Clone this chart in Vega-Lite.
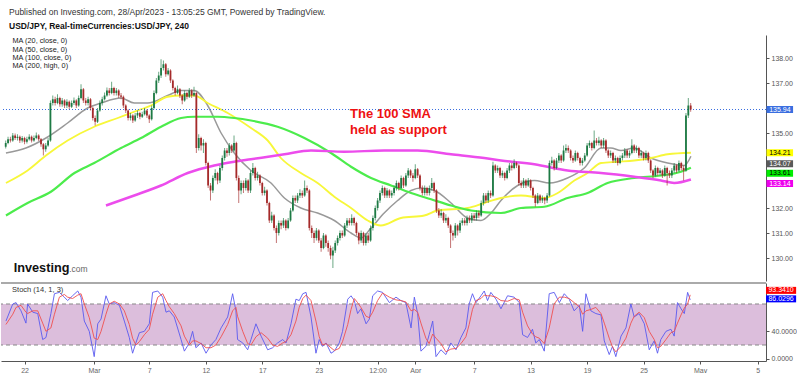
{
"$schema":"https://vega.github.io/schema/vega-lite/v6.json",
"padding":{"left":0,"top":8,"right":0,"bottom":0},
"background":"white",
"config":{"font":"Liberation Sans","view":{"stroke":null},"axis":{"grid":false}},
"title":{"text":"Published on Investing.com, 28/Apr/2023 - 13:05:25 GMT, Powered by TradingView.","subtitle":"USD/JPY, Real-timeCurrencies:USD/JPY, 240","anchor":"start","dx":9,"fontSize":8.5,"fontWeight":"normal","color":"#333","subtitleFontSize":8.5,"subtitleFontWeight":"bold","subtitleColor":"#111","subtitlePadding":5,"offset":5},
"datasets":{
"c":[
{"i":2,"o":134.45,"h":134.7,"l":134.38,"c":134.6},
{"i":3,"o":134.6,"h":134.85,"l":134.55,"c":134.75},
{"i":4,"o":134.75,"h":134.85,"l":134.62,"c":134.7},
{"i":5,"o":134.7,"h":135.0,"l":134.65,"c":134.9},
{"i":6,"o":134.9,"h":134.98,"l":134.72,"c":134.8},
{"i":7,"o":134.8,"h":134.95,"l":134.7,"c":134.85},
{"i":8,"o":134.85,"h":134.9,"l":134.6,"c":134.7},
{"i":9,"o":134.7,"h":134.88,"l":134.62,"c":134.8},
{"i":10,"o":134.8,"h":134.85,"l":134.55,"c":134.65},
{"i":11,"o":134.65,"h":134.85,"l":134.58,"c":134.75},
{"i":12,"o":134.75,"h":134.95,"l":134.7,"c":134.85},
{"i":13,"o":134.85,"h":134.9,"l":134.62,"c":134.7},
{"i":14,"o":134.7,"h":134.9,"l":134.65,"c":134.8},
{"i":15,"o":134.8,"h":135.02,"l":134.75,"c":134.9},
{"i":16,"o":134.9,"h":134.95,"l":134.68,"c":134.75},
{"i":17,"o":134.75,"h":134.8,"l":134.45,"c":134.55},
{"i":18,"o":134.55,"h":134.6,"l":134.1,"c":134.35},
{"i":19,"o":134.35,"h":134.6,"l":134.25,"c":134.5},
{"i":20,"o":134.5,"h":134.8,"l":134.45,"c":134.7},
{"i":21,"o":134.7,"h":136.3,"l":134.65,"c":136.2},
{"i":22,"o":136.2,"h":136.5,"l":136.1,"c":136.35},
{"i":23,"o":136.35,"h":136.45,"l":136.1,"c":136.2},
{"i":24,"o":136.2,"h":136.55,"l":136.15,"c":136.4},
{"i":25,"o":136.4,"h":136.45,"l":136.05,"c":136.15},
{"i":26,"o":136.15,"h":136.4,"l":136.05,"c":136.3},
{"i":27,"o":136.3,"h":136.35,"l":136.0,"c":136.1},
{"i":28,"o":136.1,"h":136.35,"l":136.0,"c":136.25},
{"i":29,"o":136.25,"h":136.3,"l":135.95,"c":136.05},
{"i":30,"o":136.05,"h":136.3,"l":136.0,"c":136.2},
{"i":31,"o":136.2,"h":136.42,"l":136.12,"c":136.3},
{"i":32,"o":136.3,"h":136.35,"l":136.0,"c":136.1},
{"i":33,"o":136.1,"h":136.5,"l":136.05,"c":136.4},
{"i":34,"o":136.4,"h":136.95,"l":136.35,"c":136.75},
{"i":35,"o":136.75,"h":136.8,"l":136.2,"c":136.3},
{"i":36,"o":136.3,"h":136.4,"l":136.1,"c":136.2},
{"i":37,"o":136.2,"h":136.45,"l":136.1,"c":136.35},
{"i":38,"o":136.35,"h":136.4,"l":135.9,"c":136.0},
{"i":39,"o":136.0,"h":136.05,"l":135.5,"c":135.6},
{"i":40,"o":135.6,"h":135.7,"l":135.3,"c":135.45},
{"i":41,"o":135.45,"h":136.0,"l":135.4,"c":135.9},
{"i":42,"o":135.9,"h":136.3,"l":135.85,"c":136.2},
{"i":43,"o":136.2,"h":136.45,"l":136.1,"c":136.35},
{"i":44,"o":136.35,"h":136.62,"l":136.3,"c":136.5},
{"i":45,"o":136.5,"h":136.82,"l":136.45,"c":136.7},
{"i":46,"o":136.7,"h":136.8,"l":136.5,"c":136.6},
{"i":47,"o":136.6,"h":137.05,"l":136.55,"c":136.8},
{"i":48,"o":136.8,"h":136.85,"l":136.5,"c":136.6},
{"i":49,"o":136.6,"h":136.8,"l":136.5,"c":136.7},
{"i":50,"o":136.7,"h":136.75,"l":136.4,"c":136.5},
{"i":51,"o":136.5,"h":136.6,"l":136.35,"c":136.45},
{"i":52,"o":136.45,"h":136.5,"l":136.0,"c":136.1},
{"i":53,"o":136.1,"h":136.15,"l":135.8,"c":135.9},
{"i":54,"o":135.9,"h":135.95,"l":135.5,"c":135.6},
{"i":55,"o":135.6,"h":135.8,"l":135.5,"c":135.7},
{"i":56,"o":135.7,"h":135.75,"l":135.4,"c":135.5},
{"i":57,"o":135.5,"h":135.8,"l":135.45,"c":135.7},
{"i":58,"o":135.7,"h":135.9,"l":135.6,"c":135.8},
{"i":59,"o":135.8,"h":135.85,"l":135.55,"c":135.65},
{"i":60,"o":135.65,"h":135.85,"l":135.6,"c":135.75},
{"i":61,"o":135.75,"h":136.0,"l":135.7,"c":135.9},
{"i":62,"o":135.9,"h":135.95,"l":135.6,"c":135.7},
{"i":63,"o":135.7,"h":135.75,"l":135.4,"c":135.55},
{"i":64,"o":135.55,"h":136.1,"l":135.5,"c":136.0},
{"i":65,"o":136.0,"h":136.7,"l":135.95,"c":136.6},
{"i":66,"o":136.6,"h":137.2,"l":136.55,"c":137.1},
{"i":67,"o":137.1,"h":137.45,"l":137.0,"c":137.3},
{"i":68,"o":137.3,"h":137.95,"l":137.2,"c":137.6},
{"i":69,"o":137.6,"h":137.9,"l":137.5,"c":137.75},
{"i":70,"o":137.75,"h":137.8,"l":137.25,"c":137.35},
{"i":71,"o":137.35,"h":137.6,"l":137.3,"c":137.5},
{"i":72,"o":137.5,"h":137.55,"l":137.0,"c":137.1},
{"i":73,"o":137.1,"h":137.15,"l":136.7,"c":136.8},
{"i":74,"o":136.8,"h":136.85,"l":136.5,"c":136.6},
{"i":75,"o":136.6,"h":136.9,"l":136.55,"c":136.75},
{"i":76,"o":136.75,"h":136.8,"l":136.4,"c":136.5},
{"i":77,"o":136.5,"h":136.55,"l":136.15,"c":136.3},
{"i":78,"o":136.3,"h":136.7,"l":136.25,"c":136.6},
{"i":79,"o":136.6,"h":136.65,"l":136.35,"c":136.45},
{"i":80,"o":136.45,"h":136.8,"l":136.4,"c":136.7},
{"i":81,"o":136.7,"h":136.75,"l":136.4,"c":136.5},
{"i":82,"o":136.5,"h":136.85,"l":136.45,"c":136.6},
{"i":83,"o":136.6,"h":136.65,"l":134.2,"c":134.4},
{"i":84,"o":134.4,"h":134.95,"l":134.3,"c":134.8},
{"i":85,"o":134.8,"h":134.85,"l":134.3,"c":134.5},
{"i":86,"o":134.5,"h":134.75,"l":134.2,"c":134.6},
{"i":87,"o":134.6,"h":134.65,"l":133.7,"c":133.8},
{"i":88,"o":133.8,"h":133.85,"l":132.8,"c":132.9},
{"i":89,"o":132.9,"h":133.0,"l":132.3,"c":132.7},
{"i":90,"o":132.7,"h":133.3,"l":132.6,"c":133.2},
{"i":91,"o":133.2,"h":133.55,"l":133.1,"c":133.4},
{"i":92,"o":133.4,"h":133.45,"l":132.95,"c":133.1},
{"i":93,"o":133.1,"h":133.7,"l":133.0,"c":133.6},
{"i":94,"o":133.6,"h":134.1,"l":133.5,"c":134.0},
{"i":95,"o":134.0,"h":134.4,"l":133.9,"c":134.3},
{"i":96,"o":134.3,"h":134.4,"l":134.05,"c":134.2},
{"i":97,"o":134.2,"h":134.6,"l":134.1,"c":134.5},
{"i":98,"o":134.5,"h":134.55,"l":134.2,"c":134.3},
{"i":99,"o":134.3,"h":134.9,"l":134.25,"c":134.6},
{"i":100,"o":134.6,"h":134.65,"l":133.1,"c":133.2},
{"i":101,"o":133.2,"h":133.3,"l":132.2,"c":132.7},
{"i":102,"o":132.7,"h":133.1,"l":132.55,"c":133.0},
{"i":103,"o":133.0,"h":133.1,"l":132.6,"c":132.8},
{"i":104,"o":132.8,"h":133.2,"l":132.7,"c":133.1},
{"i":105,"o":133.1,"h":133.15,"l":132.6,"c":132.7},
{"i":106,"o":132.7,"h":133.5,"l":132.6,"c":133.4},
{"i":107,"o":133.4,"h":133.8,"l":133.3,"c":133.6},
{"i":108,"o":133.6,"h":133.65,"l":133.1,"c":133.2},
{"i":109,"o":133.2,"h":133.45,"l":133.1,"c":133.3},
{"i":110,"o":133.3,"h":133.35,"l":132.9,"c":133.0},
{"i":111,"o":133.0,"h":133.05,"l":132.5,"c":132.6},
{"i":112,"o":132.6,"h":132.85,"l":132.5,"c":132.7},
{"i":113,"o":132.7,"h":132.75,"l":132.1,"c":132.2},
{"i":114,"o":132.2,"h":132.25,"l":131.4,"c":131.5},
{"i":115,"o":131.5,"h":131.85,"l":131.4,"c":131.7},
{"i":116,"o":131.7,"h":131.75,"l":131.1,"c":131.2},
{"i":117,"o":131.2,"h":131.3,"l":130.6,"c":131.0},
{"i":118,"o":131.0,"h":131.5,"l":130.9,"c":131.4},
{"i":119,"o":131.4,"h":131.5,"l":131.15,"c":131.3},
{"i":120,"o":131.3,"h":131.6,"l":131.2,"c":131.5},
{"i":121,"o":131.5,"h":131.55,"l":131.1,"c":131.2},
{"i":122,"o":131.2,"h":131.6,"l":131.15,"c":131.5},
{"i":123,"o":131.5,"h":132.0,"l":131.45,"c":131.9},
{"i":124,"o":131.9,"h":132.5,"l":131.85,"c":132.4},
{"i":125,"o":132.4,"h":132.5,"l":132.2,"c":132.3},
{"i":126,"o":132.3,"h":132.6,"l":132.2,"c":132.5},
{"i":127,"o":132.5,"h":132.75,"l":132.4,"c":132.6},
{"i":128,"o":132.6,"h":132.7,"l":132.4,"c":132.5},
{"i":129,"o":132.5,"h":133.1,"l":132.45,"c":132.8},
{"i":130,"o":132.8,"h":132.9,"l":132.6,"c":132.7},
{"i":131,"o":132.7,"h":132.75,"l":131.1,"c":131.2},
{"i":132,"o":131.2,"h":131.3,"l":130.8,"c":131.0},
{"i":133,"o":131.0,"h":131.1,"l":130.6,"c":130.8},
{"i":134,"o":130.8,"h":131.2,"l":130.7,"c":131.1},
{"i":135,"o":131.1,"h":131.15,"l":130.6,"c":130.7},
{"i":136,"o":130.7,"h":130.8,"l":130.25,"c":130.4},
{"i":137,"o":130.4,"h":131.0,"l":130.35,"c":130.9},
{"i":138,"o":130.9,"h":130.95,"l":130.45,"c":130.6},
{"i":139,"o":130.6,"h":130.7,"l":130.25,"c":130.4},
{"i":140,"o":130.4,"h":130.5,"l":129.95,"c":130.1},
{"i":141,"o":130.1,"h":130.45,"l":129.6,"c":130.3},
{"i":142,"o":130.3,"h":130.7,"l":130.2,"c":130.6},
{"i":143,"o":130.6,"h":130.9,"l":130.5,"c":130.8},
{"i":144,"o":130.8,"h":131.1,"l":130.7,"c":131.0},
{"i":145,"o":131.0,"h":131.1,"l":130.8,"c":130.9},
{"i":146,"o":130.9,"h":131.4,"l":130.85,"c":131.3},
{"i":147,"o":131.3,"h":131.6,"l":131.2,"c":131.5},
{"i":148,"o":131.5,"h":131.6,"l":131.3,"c":131.4},
{"i":149,"o":131.4,"h":131.75,"l":131.3,"c":131.6},
{"i":150,"o":131.6,"h":131.65,"l":131.3,"c":131.4},
{"i":151,"o":131.4,"h":131.45,"l":130.9,"c":131.0},
{"i":152,"o":131.0,"h":131.05,"l":130.55,"c":130.7},
{"i":153,"o":130.7,"h":131.1,"l":130.6,"c":131.0},
{"i":154,"o":131.0,"h":131.05,"l":130.5,"c":130.6},
{"i":155,"o":130.6,"h":131.0,"l":130.5,"c":130.9},
{"i":156,"o":130.9,"h":131.0,"l":130.6,"c":130.7},
{"i":157,"o":130.7,"h":131.3,"l":130.65,"c":131.2},
{"i":158,"o":131.2,"h":131.7,"l":131.1,"c":131.6},
{"i":159,"o":131.6,"h":132.1,"l":131.5,"c":132.0},
{"i":160,"o":132.0,"h":132.4,"l":131.9,"c":132.3},
{"i":161,"o":132.3,"h":132.7,"l":132.2,"c":132.6},
{"i":162,"o":132.6,"h":132.9,"l":132.5,"c":132.8},
{"i":163,"o":132.8,"h":132.85,"l":132.4,"c":132.5},
{"i":164,"o":132.5,"h":132.8,"l":132.4,"c":132.7},
{"i":165,"o":132.7,"h":132.75,"l":132.4,"c":132.5},
{"i":166,"o":132.5,"h":132.7,"l":132.4,"c":132.6},
{"i":167,"o":132.6,"h":132.9,"l":132.5,"c":132.8},
{"i":168,"o":132.8,"h":133.1,"l":132.7,"c":133.0},
{"i":169,"o":133.0,"h":133.05,"l":132.7,"c":132.8},
{"i":170,"o":132.8,"h":133.3,"l":132.75,"c":133.2},
{"i":171,"o":133.2,"h":133.25,"l":132.8,"c":132.9},
{"i":172,"o":132.9,"h":133.4,"l":132.85,"c":133.3},
{"i":173,"o":133.3,"h":133.6,"l":133.2,"c":133.5},
{"i":174,"o":133.5,"h":133.55,"l":133.2,"c":133.3},
{"i":175,"o":133.3,"h":133.4,"l":133.05,"c":133.2},
{"i":176,"o":133.2,"h":133.75,"l":133.15,"c":133.55},
{"i":177,"o":133.55,"h":133.6,"l":133.2,"c":133.3},
{"i":178,"o":133.3,"h":133.35,"l":132.7,"c":132.8},
{"i":179,"o":132.8,"h":132.9,"l":132.5,"c":132.6},
{"i":180,"o":132.6,"h":132.9,"l":132.5,"c":132.8},
{"i":181,"o":132.8,"h":132.85,"l":132.5,"c":132.6},
{"i":182,"o":132.6,"h":132.9,"l":132.5,"c":132.8},
{"i":183,"o":132.8,"h":133.2,"l":132.7,"c":133.0},
{"i":184,"o":133.0,"h":133.05,"l":132.6,"c":132.7},
{"i":185,"o":132.7,"h":132.75,"l":131.8,"c":131.9},
{"i":186,"o":131.9,"h":132.0,"l":131.6,"c":131.7},
{"i":187,"o":131.7,"h":131.95,"l":131.6,"c":131.8},
{"i":188,"o":131.8,"h":131.85,"l":131.4,"c":131.5},
{"i":189,"o":131.5,"h":131.75,"l":131.4,"c":131.6},
{"i":190,"o":131.6,"h":131.65,"l":131.2,"c":131.3},
{"i":191,"o":131.3,"h":131.35,"l":130.4,"c":131.0},
{"i":192,"o":131.0,"h":131.1,"l":130.7,"c":130.9},
{"i":193,"o":130.9,"h":131.4,"l":130.8,"c":131.3},
{"i":194,"o":131.3,"h":131.35,"l":130.9,"c":131.1},
{"i":195,"o":131.1,"h":131.5,"l":131.0,"c":131.4},
{"i":196,"o":131.4,"h":131.6,"l":131.3,"c":131.5},
{"i":197,"o":131.5,"h":131.6,"l":131.3,"c":131.4},
{"i":198,"o":131.4,"h":131.7,"l":131.3,"c":131.6},
{"i":199,"o":131.6,"h":131.7,"l":131.4,"c":131.5},
{"i":200,"o":131.5,"h":131.8,"l":131.4,"c":131.7},
{"i":201,"o":131.7,"h":131.8,"l":131.5,"c":131.6},
{"i":202,"o":131.6,"h":131.9,"l":131.5,"c":131.8},
{"i":203,"o":131.8,"h":131.9,"l":131.6,"c":131.7},
{"i":204,"o":131.7,"h":132.3,"l":131.65,"c":132.2},
{"i":205,"o":132.2,"h":132.6,"l":132.1,"c":132.5},
{"i":206,"o":132.5,"h":132.6,"l":132.2,"c":132.3},
{"i":207,"o":132.3,"h":132.7,"l":132.2,"c":132.6},
{"i":208,"o":132.6,"h":132.7,"l":132.4,"c":132.5},
{"i":209,"o":132.5,"h":133.85,"l":132.45,"c":133.7},
{"i":210,"o":133.7,"h":133.75,"l":133.4,"c":133.5},
{"i":211,"o":133.5,"h":133.7,"l":133.4,"c":133.6},
{"i":212,"o":133.6,"h":133.65,"l":133.2,"c":133.3},
{"i":213,"o":133.3,"h":133.5,"l":133.2,"c":133.4},
{"i":214,"o":133.4,"h":133.45,"l":133.1,"c":133.2},
{"i":215,"o":133.2,"h":133.6,"l":133.15,"c":133.5},
{"i":216,"o":133.5,"h":133.8,"l":133.4,"c":133.7},
{"i":217,"o":133.7,"h":133.8,"l":133.5,"c":133.6},
{"i":218,"o":133.6,"h":133.95,"l":133.55,"c":133.8},
{"i":219,"o":133.8,"h":133.85,"l":133.6,"c":133.7},
{"i":220,"o":133.7,"h":133.75,"l":132.9,"c":133.0},
{"i":221,"o":133.0,"h":133.1,"l":132.8,"c":132.9},
{"i":222,"o":132.9,"h":133.2,"l":132.8,"c":133.1},
{"i":223,"o":133.1,"h":133.15,"l":132.8,"c":132.9},
{"i":224,"o":132.9,"h":133.2,"l":132.85,"c":133.1},
{"i":225,"o":133.1,"h":133.15,"l":132.7,"c":132.8},
{"i":226,"o":132.8,"h":132.85,"l":132.4,"c":132.5},
{"i":227,"o":132.5,"h":132.55,"l":132.05,"c":132.2},
{"i":228,"o":132.2,"h":132.6,"l":132.15,"c":132.5},
{"i":229,"o":132.5,"h":132.55,"l":132.2,"c":132.3},
{"i":230,"o":132.3,"h":132.5,"l":132.2,"c":132.4},
{"i":231,"o":132.4,"h":132.45,"l":132.15,"c":132.3},
{"i":232,"o":132.3,"h":132.6,"l":132.2,"c":132.5},
{"i":233,"o":132.5,"h":133.9,"l":132.45,"c":133.8},
{"i":234,"o":133.8,"h":134.05,"l":133.7,"c":133.9},
{"i":235,"o":133.9,"h":133.95,"l":133.5,"c":133.6},
{"i":236,"o":133.6,"h":134.0,"l":133.55,"c":133.9},
{"i":237,"o":133.9,"h":134.2,"l":133.8,"c":134.1},
{"i":238,"o":134.1,"h":134.15,"l":133.8,"c":133.9},
{"i":239,"o":133.9,"h":134.5,"l":133.85,"c":134.3},
{"i":240,"o":134.3,"h":134.55,"l":134.2,"c":134.4},
{"i":241,"o":134.4,"h":134.5,"l":134.2,"c":134.3},
{"i":242,"o":134.3,"h":134.35,"l":133.9,"c":134.0},
{"i":243,"o":134.0,"h":134.1,"l":133.8,"c":133.9},
{"i":244,"o":133.9,"h":134.3,"l":133.85,"c":134.2},
{"i":245,"o":134.2,"h":134.25,"l":133.9,"c":134.0},
{"i":246,"o":134.0,"h":134.05,"l":133.7,"c":133.8},
{"i":247,"o":133.8,"h":134.0,"l":133.7,"c":133.9},
{"i":248,"o":133.9,"h":134.2,"l":133.85,"c":134.1},
{"i":249,"o":134.1,"h":134.6,"l":134.05,"c":134.5},
{"i":250,"o":134.5,"h":134.7,"l":134.4,"c":134.6},
{"i":251,"o":134.6,"h":134.65,"l":134.3,"c":134.4},
{"i":252,"o":134.4,"h":135.1,"l":134.35,"c":134.7},
{"i":253,"o":134.7,"h":134.8,"l":134.5,"c":134.6},
{"i":254,"o":134.6,"h":134.85,"l":134.5,"c":134.7},
{"i":255,"o":134.7,"h":134.75,"l":134.4,"c":134.5},
{"i":256,"o":134.5,"h":134.8,"l":134.4,"c":134.7},
{"i":257,"o":134.7,"h":134.75,"l":134.2,"c":134.3},
{"i":258,"o":134.3,"h":134.35,"l":134.0,"c":134.1},
{"i":259,"o":134.1,"h":134.3,"l":134.0,"c":134.2},
{"i":260,"o":134.2,"h":134.25,"l":133.8,"c":133.9},
{"i":261,"o":133.9,"h":134.1,"l":133.8,"c":134.0},
{"i":262,"o":134.0,"h":134.05,"l":133.7,"c":133.8},
{"i":263,"o":133.8,"h":134.1,"l":133.75,"c":134.0},
{"i":264,"o":134.0,"h":134.2,"l":133.9,"c":134.1},
{"i":265,"o":134.1,"h":134.4,"l":134.0,"c":134.3},
{"i":266,"o":134.3,"h":134.35,"l":134.0,"c":134.1},
{"i":267,"o":134.1,"h":134.3,"l":134.0,"c":134.2},
{"i":268,"o":134.2,"h":134.75,"l":134.15,"c":134.5},
{"i":269,"o":134.5,"h":134.55,"l":134.2,"c":134.3},
{"i":270,"o":134.3,"h":134.5,"l":134.2,"c":134.4},
{"i":271,"o":134.4,"h":134.45,"l":134.0,"c":134.1},
{"i":272,"o":134.1,"h":134.3,"l":134.0,"c":134.2},
{"i":273,"o":134.2,"h":134.25,"l":133.9,"c":134.0},
{"i":274,"o":134.0,"h":134.3,"l":133.9,"c":134.2},
{"i":275,"o":134.2,"h":134.25,"l":133.8,"c":133.9},
{"i":276,"o":133.9,"h":133.95,"l":133.4,"c":133.5},
{"i":277,"o":133.5,"h":133.55,"l":133.2,"c":133.3},
{"i":278,"o":133.3,"h":133.7,"l":133.25,"c":133.6},
{"i":279,"o":133.6,"h":133.65,"l":133.3,"c":133.4},
{"i":280,"o":133.4,"h":133.6,"l":133.3,"c":133.5},
{"i":281,"o":133.5,"h":133.55,"l":133.2,"c":133.3},
{"i":282,"o":133.3,"h":133.7,"l":133.25,"c":133.6},
{"i":283,"o":133.6,"h":133.65,"l":132.9,"c":133.4},
{"i":284,"o":133.4,"h":133.5,"l":133.2,"c":133.3},
{"i":285,"o":133.3,"h":133.6,"l":133.2,"c":133.5},
{"i":286,"o":133.5,"h":133.8,"l":133.4,"c":133.7},
{"i":287,"o":133.7,"h":133.75,"l":133.4,"c":133.5},
{"i":288,"o":133.5,"h":133.9,"l":133.45,"c":133.8},
{"i":289,"o":133.8,"h":133.85,"l":133.5,"c":133.6},
{"i":290,"o":133.6,"h":133.7,"l":133.1,"c":133.5},
{"i":291,"o":133.5,"h":135.8,"l":133.45,"c":135.7},
{"i":292,"o":135.7,"h":136.4,"l":135.6,"c":136.1},
{"i":293,"o":136.1,"h":136.2,"l":135.85,"c":135.94}
],
"ma":[
{"s":"MA (20, close, 0)","i":2.1,"v":134.2},{"s":"MA (20, close, 0)","i":10.6,"v":134.4},{"s":"MA (20, close, 0)","i":19.1,"v":134.8},{"s":"MA (20, close, 0)","i":28.3,"v":135.4},{"s":"MA (20, close, 0)","i":36.8,"v":136.0},{"s":"MA (20, close, 0)","i":42.5,"v":136.2},{"s":"MA (20, close, 0)","i":51,"v":136.4},{"s":"MA (20, close, 0)","i":56.6,"v":136.2},{"s":"MA (20, close, 0)","i":62.3,"v":136.2},{"s":"MA (20, close, 0)","i":70.8,"v":136.5},{"s":"MA (20, close, 0)","i":76.5,"v":136.7},{"s":"MA (20, close, 0)","i":82.1,"v":136.7},{"s":"MA (20, close, 0)","i":87.8,"v":136.1},{"s":"MA (20, close, 0)","i":93.5,"v":135.0},{"s":"MA (20, close, 0)","i":99.1,"v":134.2},{"s":"MA (20, close, 0)","i":106.2,"v":133.5},{"s":"MA (20, close, 0)","i":114.7,"v":133.0},{"s":"MA (20, close, 0)","i":120.4,"v":132.4},{"s":"MA (20, close, 0)","i":127.4,"v":132.0},{"s":"MA (20, close, 0)","i":134.5,"v":131.8},{"s":"MA (20, close, 0)","i":141.6,"v":131.5},{"s":"MA (20, close, 0)","i":148.7,"v":131.0},{"s":"MA (20, close, 0)","i":152.9,"v":130.8},{"s":"MA (20, close, 0)","i":157.2,"v":131.2},{"s":"MA (20, close, 0)","i":162.8,"v":131.8},{"s":"MA (20, close, 0)","i":168.5,"v":132.3},{"s":"MA (20, close, 0)","i":174.2,"v":132.7},{"s":"MA (20, close, 0)","i":178.4,"v":132.8},{"s":"MA (20, close, 0)","i":184.1,"v":132.7},{"s":"MA (20, close, 0)","i":191.2,"v":132.2},{"s":"MA (20, close, 0)","i":198.2,"v":131.6},{"s":"MA (20, close, 0)","i":203.9,"v":131.5},{"s":"MA (20, close, 0)","i":208.2,"v":131.8},{"s":"MA (20, close, 0)","i":212.4,"v":132.3},{"s":"MA (20, close, 0)","i":219.5,"v":132.9},{"s":"MA (20, close, 0)","i":226.6,"v":133.1},{"s":"MA (20, close, 0)","i":233,"v":133.0},{"s":"MA (20, close, 0)","i":240.7,"v":133.2},{"s":"MA (20, close, 0)","i":247.8,"v":133.6},{"s":"MA (20, close, 0)","i":254.9,"v":134.4},{"s":"MA (20, close, 0)","i":259.1,"v":134.4},{"s":"MA (20, close, 0)","i":263.4,"v":134.3},{"s":"MA (20, close, 0)","i":269,"v":134.4},{"s":"MA (20, close, 0)","i":276.1,"v":134.0},{"s":"MA (20, close, 0)","i":283.2,"v":133.8},{"s":"MA (20, close, 0)","i":290.3,"v":133.7},{"s":"MA (20, close, 0)","i":293.1,"v":134.07},
{"s":"MA (50, close, 0)","i":2.1,"v":133.0},{"s":"MA (50, close, 0)","i":11.3,"v":133.5},{"s":"MA (50, close, 0)","i":19.1,"v":134.1},{"s":"MA (50, close, 0)","i":28.3,"v":134.7},{"s":"MA (50, close, 0)","i":39.6,"v":135.25},{"s":"MA (50, close, 0)","i":49.6,"v":135.6},{"s":"MA (50, close, 0)","i":56.6,"v":135.85},{"s":"MA (50, close, 0)","i":63.7,"v":136.1},{"s":"MA (50, close, 0)","i":70.8,"v":136.45},{"s":"MA (50, close, 0)","i":76.5,"v":136.5},{"s":"MA (50, close, 0)","i":82.1,"v":136.5},{"s":"MA (50, close, 0)","i":87.8,"v":136.2},{"s":"MA (50, close, 0)","i":96.3,"v":135.8},{"s":"MA (50, close, 0)","i":106.2,"v":135.2},{"s":"MA (50, close, 0)","i":113.3,"v":134.7},{"s":"MA (50, close, 0)","i":118.9,"v":134.0},{"s":"MA (50, close, 0)","i":127.4,"v":133.4},{"s":"MA (50, close, 0)","i":134.5,"v":133.0},{"s":"MA (50, close, 0)","i":141.6,"v":132.45},{"s":"MA (50, close, 0)","i":148.7,"v":132.0},{"s":"MA (50, close, 0)","i":155.8,"v":131.5},{"s":"MA (50, close, 0)","i":161.4,"v":131.3},{"s":"MA (50, close, 0)","i":169.9,"v":131.6},{"s":"MA (50, close, 0)","i":179.8,"v":131.7},{"s":"MA (50, close, 0)","i":185.5,"v":131.9},{"s":"MA (50, close, 0)","i":198.2,"v":132.0},{"s":"MA (50, close, 0)","i":205.3,"v":132.2},{"s":"MA (50, close, 0)","i":212.4,"v":132.4},{"s":"MA (50, close, 0)","i":220.9,"v":132.5},{"s":"MA (50, close, 0)","i":230.8,"v":132.4},{"s":"MA (50, close, 0)","i":236.5,"v":132.6},{"s":"MA (50, close, 0)","i":243.6,"v":133.1},{"s":"MA (50, close, 0)","i":249.2,"v":133.4},{"s":"MA (50, close, 0)","i":254.9,"v":133.8},{"s":"MA (50, close, 0)","i":262,"v":133.85},{"s":"MA (50, close, 0)","i":269,"v":133.9},{"s":"MA (50, close, 0)","i":276.1,"v":134.0},{"s":"MA (50, close, 0)","i":283.2,"v":134.15},{"s":"MA (50, close, 0)","i":293.1,"v":134.21},
{"s":"MA (100, close, 0)","i":2.1,"v":131.7},{"s":"MA (100, close, 0)","i":11.3,"v":132.2},{"s":"MA (100, close, 0)","i":21.2,"v":132.65},{"s":"MA (100, close, 0)","i":31.2,"v":133.4},{"s":"MA (100, close, 0)","i":39.6,"v":133.8},{"s":"MA (100, close, 0)","i":51,"v":134.4},{"s":"MA (100, close, 0)","i":59.5,"v":134.8},{"s":"MA (100, close, 0)","i":68,"v":135.25},{"s":"MA (100, close, 0)","i":76.5,"v":135.6},{"s":"MA (100, close, 0)","i":82.1,"v":135.65},{"s":"MA (100, close, 0)","i":92,"v":135.65},{"s":"MA (100, close, 0)","i":99.1,"v":135.6},{"s":"MA (100, close, 0)","i":106.2,"v":135.5},{"s":"MA (100, close, 0)","i":117.5,"v":135.25},{"s":"MA (100, close, 0)","i":128.9,"v":134.8},{"s":"MA (100, close, 0)","i":140.2,"v":134.2},{"s":"MA (100, close, 0)","i":148.7,"v":133.65},{"s":"MA (100, close, 0)","i":157.2,"v":133.2},{"s":"MA (100, close, 0)","i":165.7,"v":132.9},{"s":"MA (100, close, 0)","i":174.2,"v":132.6},{"s":"MA (100, close, 0)","i":182.7,"v":132.35},{"s":"MA (100, close, 0)","i":191.2,"v":132.1},{"s":"MA (100, close, 0)","i":199.7,"v":131.9},{"s":"MA (100, close, 0)","i":212.4,"v":131.8},{"s":"MA (100, close, 0)","i":220.9,"v":132.0},{"s":"MA (100, close, 0)","i":230.8,"v":132.05},{"s":"MA (100, close, 0)","i":240.7,"v":132.4},{"s":"MA (100, close, 0)","i":249.2,"v":132.6},{"s":"MA (100, close, 0)","i":257.7,"v":133.0},{"s":"MA (100, close, 0)","i":269,"v":133.2},{"s":"MA (100, close, 0)","i":280.4,"v":133.3},{"s":"MA (100, close, 0)","i":288.9,"v":133.45},{"s":"MA (100, close, 0)","i":293.1,"v":133.61},
{"s":"MA (200, high, 0)","i":44.6,"v":132.1},{"s":"MA (200, high, 0)","i":56.6,"v":132.5},{"s":"MA (200, high, 0)","i":68,"v":132.9},{"s":"MA (200, high, 0)","i":79.3,"v":133.4},{"s":"MA (200, high, 0)","i":90.6,"v":133.7},{"s":"MA (200, high, 0)","i":99.1,"v":133.85},{"s":"MA (200, high, 0)","i":106.2,"v":133.95},{"s":"MA (200, high, 0)","i":120.4,"v":134.15},{"s":"MA (200, high, 0)","i":131.7,"v":134.3},{"s":"MA (200, high, 0)","i":145.8,"v":134.25},{"s":"MA (200, high, 0)","i":162.8,"v":134.3},{"s":"MA (200, high, 0)","i":177,"v":134.3},{"s":"MA (200, high, 0)","i":191.2,"v":134.15},{"s":"MA (200, high, 0)","i":205.3,"v":134.0},{"s":"MA (200, high, 0)","i":212.4,"v":133.9},{"s":"MA (200, high, 0)","i":226.6,"v":133.75},{"s":"MA (200, high, 0)","i":240.7,"v":133.5},{"s":"MA (200, high, 0)","i":254.9,"v":133.4},{"s":"MA (200, high, 0)","i":269,"v":133.25},{"s":"MA (200, high, 0)","i":280.4,"v":133.1},{"s":"MA (200, high, 0)","i":286,"v":133.0},{"s":"MA (200, high, 0)","i":293.1,"v":133.14}
],
"st":[
{"i":2.1,"k":55,"d":50},{"i":5,"k":80,"d":65},{"i":6.4,"k":82,"d":75},{"i":8.5,"k":70,"d":78},{"i":10.6,"k":52,"d":68},{"i":11.3,"k":80,"d":66},{"i":13.5,"k":68,"d":70},{"i":15.6,"k":66,"d":70},{"i":17.7,"k":28,"d":52},{"i":19.1,"k":31,"d":40},{"i":21.2,"k":66,"d":45},{"i":22.7,"k":95,"d":65},{"i":24.8,"k":97,"d":90},{"i":26.9,"k":90,"d":94},{"i":28.3,"k":85,"d":90},{"i":30.4,"k":92,"d":88},{"i":32.6,"k":99,"d":93},{"i":34,"k":90,"d":95},{"i":35.4,"k":55,"d":80},{"i":37.5,"k":40,"d":60},{"i":39.6,"k":3,"d":30},{"i":41.1,"k":51,"d":28},{"i":42.5,"k":58,"d":40},{"i":44.6,"k":92,"d":65},{"i":46,"k":80,"d":80},{"i":48.1,"k":82,"d":84},{"i":50.3,"k":78,"d":80},{"i":52.4,"k":55,"d":70},{"i":54.5,"k":31,"d":50},{"i":55.9,"k":8,"d":30},{"i":57.3,"k":23,"d":20},{"i":58.8,"k":38,"d":25},{"i":60.9,"k":40,"d":35},{"i":63,"k":51,"d":43},{"i":64.4,"k":97,"d":65},{"i":66.6,"k":99,"d":90},{"i":68.7,"k":90,"d":95},{"i":70.1,"k":68,"d":85},{"i":71.5,"k":70,"d":76},{"i":73.6,"k":61,"d":66},{"i":76.5,"k":28,"d":48},{"i":77.9,"k":11,"d":33},{"i":80,"k":23,"d":20},{"i":81.4,"k":40,"d":26},{"i":82.8,"k":16,"d":26},{"i":85,"k":23,"d":22},{"i":87.1,"k":8,"d":16},{"i":89.2,"k":20,"d":16},{"i":91.3,"k":28,"d":20},{"i":93.5,"k":45,"d":32},{"i":96.3,"k":61,"d":50},{"i":98.4,"k":95,"d":70},{"i":99.8,"k":70,"d":75},{"i":100.5,"k":28,"d":62},{"i":102.7,"k":23,"d":40},{"i":104.8,"k":13,"d":22},{"i":106.2,"k":28,"d":20},{"i":108.3,"k":51,"d":32},{"i":110.5,"k":33,"d":38},{"i":113.3,"k":13,"d":30},{"i":115.4,"k":16,"d":20},{"i":117.5,"k":23,"d":18},{"i":119.7,"k":28,"d":23},{"i":121.1,"k":23,"d":25},{"i":123.2,"k":51,"d":35},{"i":125.3,"k":87,"d":55},{"i":126.7,"k":85,"d":75},{"i":128.2,"k":95,"d":88},{"i":129.6,"k":97,"d":93},{"i":131.7,"k":61,"d":85},{"i":133.8,"k":8,"d":55},{"i":135.2,"k":28,"d":32},{"i":136.6,"k":18,"d":20},{"i":138.1,"k":23,"d":22},{"i":140.2,"k":8,"d":16},{"i":141.6,"k":11,"d":12},{"i":143.7,"k":23,"d":15},{"i":145.1,"k":40,"d":25},{"i":147.3,"k":87,"d":50},{"i":148.7,"k":92,"d":72},{"i":150.1,"k":85,"d":88},{"i":151.5,"k":66,"d":82},{"i":152.9,"k":73,"d":75},{"i":155.1,"k":51,"d":62},{"i":156.5,"k":58,"d":60},{"i":157.9,"k":92,"d":68},{"i":160,"k":99,"d":85},{"i":162.1,"k":97,"d":96},{"i":165,"k":82,"d":90},{"i":167.8,"k":90,"d":86},{"i":169.9,"k":85,"d":85},{"i":172,"k":82,"d":83},{"i":174.2,"k":45,"d":70},{"i":175.6,"k":90,"d":72},{"i":177,"k":66,"d":68},{"i":178.4,"k":11,"d":52},{"i":180.5,"k":18,"d":30},{"i":181.9,"k":35,"d":22},{"i":183.4,"k":55,"d":36},{"i":184.8,"k":3,"d":30},{"i":186.9,"k":13,"d":22},{"i":189,"k":6,"d":10},{"i":191.1,"k":23,"d":14},{"i":193.3,"k":13,"d":15},{"i":195.4,"k":31,"d":22},{"i":197.5,"k":45,"d":32},{"i":198.9,"k":80,"d":50},{"i":200.3,"k":95,"d":72},{"i":201.8,"k":82,"d":85},{"i":203.9,"k":92,"d":88},{"i":205.3,"k":99,"d":93},{"i":206.7,"k":85,"d":92},{"i":208.1,"k":97,"d":92},{"i":210.3,"k":87,"d":90},{"i":212.4,"k":73,"d":85},{"i":215.2,"k":92,"d":84},{"i":218,"k":90,"d":88},{"i":220.2,"k":82,"d":86},{"i":221.6,"k":35,"d":68},{"i":223.7,"k":31,"d":48},{"i":225.8,"k":43,"d":36},{"i":227.2,"k":23,"d":32},{"i":228.7,"k":28,"d":30},{"i":230.8,"k":11,"d":22},{"i":232.9,"k":95,"d":45},{"i":235,"k":97,"d":80},{"i":237.2,"k":82,"d":90},{"i":239.3,"k":95,"d":90},{"i":241.4,"k":87,"d":88},{"i":243.5,"k":70,"d":82},{"i":245.7,"k":78,"d":76},{"i":247.1,"k":40,"d":65},{"i":248.5,"k":95,"d":70},{"i":250.6,"k":70,"d":72},{"i":252.7,"k":66,"d":75},{"i":254.9,"k":64,"d":66},{"i":256.3,"k":26,"d":52},{"i":258.4,"k":6,"d":30},{"i":259.8,"k":18,"d":17},{"i":261.2,"k":3,"d":10},{"i":263.4,"k":33,"d":18},{"i":265.5,"k":45,"d":30},{"i":267.6,"k":80,"d":52},{"i":269,"k":61,"d":62},{"i":271.1,"k":66,"d":68},{"i":273.3,"k":51,"d":60},{"i":275.4,"k":13,"d":40},{"i":277.5,"k":26,"d":28},{"i":278.9,"k":8,"d":16},{"i":280.3,"k":28,"d":18},{"i":282.5,"k":40,"d":28},{"i":284.6,"k":43,"d":38},{"i":286,"k":33,"d":40},{"i":287.4,"k":82,"d":52},{"i":288.9,"k":73,"d":64},{"i":290.3,"k":66,"d":74},{"i":291.7,"k":97,"d":80},{"i":292.8,"k":86.0296,"d":93.341}
],
"lab":[{"v":135.94,"t":"135.94"},{"v":134.21,"t":"134.21"},{"v":134.07,"t":"134.07"},{"v":133.61,"t":"133.61"},{"v":133.14,"t":"133.14"}],
"slab":[{"v":93.341,"t":"93.3410"},{"v":86.0296,"t":"86.0296"}],
"lv":[{"v":80},{"v":20}],
"band":[{"lo":20,"hi":80}],
"one":[{}]
},
"spacing":1,
"vconcat":[
{
"width":765,"height":246,
"layer":[
{"data":{"name":"ma"},"mark":{"type":"line","interpolate":"monotone"},
 "encoding":{
  "x":{"field":"i","type":"quantitative","scale":{"domain":[0,325],"nice":false,"zero":false,"padding":0},"axis":null},
  "y":{"field":"v","type":"quantitative","scale":{"domain":[129.08,138.92],"nice":false,"zero":false,"padding":0},"axis":{"orient":"right","values":[130,131,132,135,137,138],"format":".2f","title":null,"domainColor":"#555","tickColor":"#555","tickSize":3,"labelColor":"#555","labelFontSize":7,"labelPadding":2}},
  "color":{"field":"s","type":"nominal","scale":{"domain":["MA (20, close, 0)","MA (50, close, 0)","MA (100, close, 0)","MA (200, high, 0)"],"range":["#999999","#f7f73a","#4cec4c","#ec4cec"]},"legend":null},
  "strokeWidth":{"field":"s","type":"nominal","scale":{"domain":["MA (20, close, 0)","MA (50, close, 0)","MA (100, close, 0)","MA (200, high, 0)"],"range":[1.5,2.5,2,2]},"legend":null}
 }},
{"data":{"name":"one"},"mark":{"type":"text","align":"left","baseline":"top","fontSize":7.3,"color":"#222","lineHeight":8.4},
 "encoding":{"x":{"datum":4.9,"type":"quantitative"},"y":{"datum":138.83,"type":"quantitative"},"text":{"value":["MA (20, close, 0)","MA (50, close, 0)","MA (100, close, 0)","MA (200, high, 0)"]}}},
{"data":{"name":"one"},"mark":{"type":"rule","strokeDash":[1,2],"color":"#3a6ee0","strokeWidth":1},"encoding":{"y":{"datum":135.94,"type":"quantitative"}}},
{"data":{"name":"c"},"mark":{"type":"rule","strokeWidth":1,"opacity":0.65},
 "encoding":{"x":{"field":"i","type":"quantitative"},"y":{"field":"l","type":"quantitative","title":null},"y2":{"field":"h"},
  "color":{"condition":{"test":"datum.c>=datum.o","value":"#1d7a44"},"value":"#a52a2a"}}},
{"data":{"name":"c"},"mark":{"type":"bar","width":1.8},
 "encoding":{"x":{"field":"i","type":"quantitative"},"y":{"field":"o","type":"quantitative","title":null},"y2":{"field":"c"},
  "color":{"condition":{"test":"datum.c>=datum.o","value":"#1d7a44"},"value":"#a52a2a"}}},
{"data":{"name":"one"},"mark":{"type":"text","align":"left","baseline":"top","fontSize":13,"fontWeight":"bold","color":"#ee1111","lineHeight":15.5},
 "encoding":{"x":{"datum":148.3,"type":"quantitative"},"y":{"datum":136.0,"type":"quantitative"},"text":{"value":["The 100 SMA","held as support"]}}},
{"data":{"name":"one"},"mark":{"type":"text","align":"left","baseline":"alphabetic","fontSize":12.7,"fontWeight":"bold","color":"#111"},
 "encoding":{"x":{"datum":5.4,"type":"quantitative"},"y":{"datum":129.45,"type":"quantitative"},"text":{"value":"Investing"}}},
{"data":{"name":"one"},"mark":{"type":"text","align":"left","baseline":"alphabetic","fontSize":8.5,"color":"#666"},
 "encoding":{"x":{"datum":29.0,"type":"quantitative"},"y":{"datum":129.45,"type":"quantitative"},"text":{"value":".com"}}},
{"data":{"name":"lab"},"mark":{"type":"bar","size":7,"yOffset":{"expr":"datum.t=='134.07'?7.5:datum.t=='133.61'?5.5:datum.t=='133.14'?4:0"}},
 "encoding":{"x":{"datum":325.2,"type":"quantitative"},"x2":{"datum":336.5},"y":{"field":"v","type":"quantitative"},
  "fill":{"field":"t","type":"nominal","scale":{"domain":["135.94","134.21","134.07","133.61","133.14","93.3410","86.0296"],"range":["#3a6ee0","#ffff00","#5a5a5a","#00ee00","#ee00ee","#ff0000","#0000ff"]},"legend":null}}},
{"data":{"name":"lab"},"mark":{"type":"text","fontSize":7,"align":"center","baseline":"middle","yOffset":{"expr":"datum.t=='134.07'?7.5:datum.t=='133.61'?5.5:datum.t=='133.14'?4:0"}},
 "encoding":{"x":{"datum":330.9,"type":"quantitative"},"y":{"field":"v","type":"quantitative"},"text":{"field":"t"},
  "color":{"condition":{"test":"datum.t=='134.21'||datum.t=='133.61'","value":"#000000"},"value":"#ffffff"}}}
]
},
{
"width":765,"height":78,
"layer":[
{"data":{"name":"band"},"mark":{"type":"rect","color":"#dcbedc"},
 "encoding":{"x":{"datum":0,"type":"quantitative","scale":{"domain":[0,325],"nice":false,"zero":false,"padding":0}},"x2":{"datum":325},
  "y":{"field":"hi","type":"quantitative","scale":{"domain":[-3.4,110.7],"nice":false,"zero":false,"padding":0}},"y2":{"field":"lo"}}},
{"data":{"name":"lv"},"mark":{"type":"rule","color":"#888","strokeDash":[4,3],"strokeWidth":1},"encoding":{"y":{"field":"v","type":"quantitative"}}},
{"data":{"name":"one"},"mark":{"type":"rule","color":"#aaaaaa","strokeWidth":2},"encoding":{"y":{"datum":110.7,"type":"quantitative"}}},
{"data":{"name":"st"},"mark":{"type":"line","color":"#5a5af0","strokeWidth":1,"opacity":0.9},
 "encoding":{"x":{"field":"i","type":"quantitative","axis":{"title":null,"values":[10,39.5,63,87,111,135,160,176,201,225,249,273,297,321.5],
   "labelExpr":"['22','Mar','7','12','17','23','12:00','Apr','7','13','19','25','May','5'][indexof([10,39.5,63,87,111,135,160,176,201,225,249,273,297,321.5],datum.value)]",
   "domainColor":"#555","tickColor":"#555","tickSize":3,"labelFontSize":7,"labelPadding":2,
   "labelColor":{"condition":{"test":"datum.label=='Mar'||datum.label=='Apr'||datum.label=='May'","value":"#222"},"value":"#666"},
   "labelFontWeight":{"condition":{"test":"datum.label=='Mar'||datum.label=='Apr'||datum.label=='May'","value":"bold"},"value":"normal"}}},
  "y":{"field":"k","type":"quantitative","axis":{"orient":"right","values":[0,40],"format":".4f","title":null,"domainColor":"#555","tickColor":"#555","tickSize":3,"labelColor":"#555","labelFontSize":7,"labelPadding":2}}}},
{"data":{"name":"st"},"mark":{"type":"line","color":"#f05050","strokeWidth":1,"opacity":0.9},
 "encoding":{"x":{"field":"i","type":"quantitative"},"y":{"field":"d","type":"quantitative"}}},
{"data":{"name":"one"},"mark":{"type":"text","align":"left","baseline":"middle","fontSize":7.5,"color":"#333"},
 "encoding":{"x":{"datum":4.7,"type":"quantitative"},"y":{"datum":100.5,"type":"quantitative"},"text":{"value":"Stoch (14, 1, 3)"}}},
{"data":{"name":"slab"},"mark":{"type":"bar","size":7,"yOffset":{"expr":"datum.t=='93.3410'?-4.5:-1"}},
 "encoding":{"x":{"datum":325.0,"type":"quantitative"},"x2":{"datum":337.8},"y":{"field":"v","type":"quantitative"},
  "fill":{"field":"t","type":"nominal","scale":{"domain":["135.94","134.21","134.07","133.61","133.14","93.3410","86.0296"],"range":["#3a6ee0","#ffff00","#5a5a5a","#00ee00","#ee00ee","#ff0000","#0000ff"]},"legend":null}}},
{"data":{"name":"slab"},"mark":{"type":"text","fontSize":7,"align":"center","baseline":"middle","color":"#ffffff","yOffset":{"expr":"datum.t=='93.3410'?-4.5:-1"}},
 "encoding":{"x":{"datum":331.4,"type":"quantitative"},"y":{"field":"v","type":"quantitative"},"text":{"field":"t"}}}
]
}
]
}
